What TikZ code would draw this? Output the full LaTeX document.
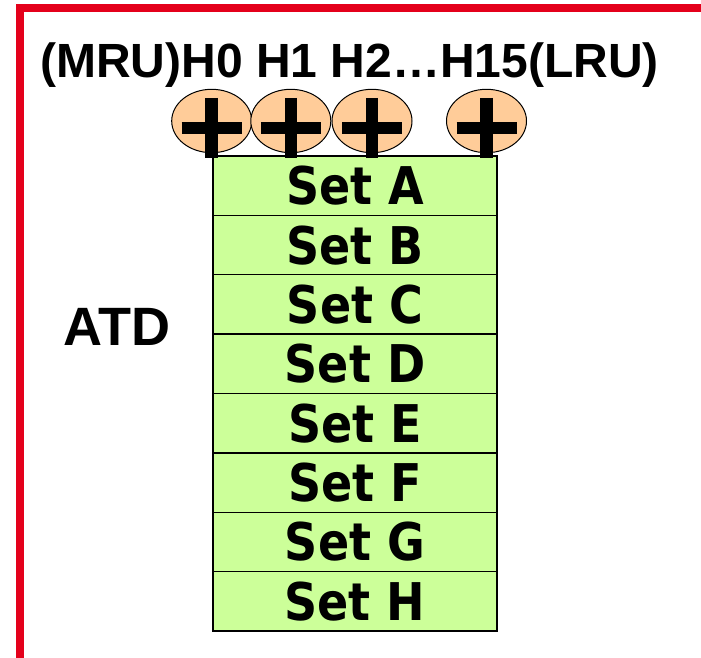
\documentclass[tikz,border=0pt]{standalone}
\usepackage{fontspec}
\setmainfont{Liberation Sans}
\newfontfamily\setfont{DejaVu Sans}[FakeStretch=0.885]
\usetikzlibrary{positioning,shapes.geometric}

\definecolor{framered}{RGB}{228,0,27}
\definecolor{rowgreen}{RGB}{204,255,153}
\definecolor{hitorange}{RGB}{255,204,153}

\tikzset{
  setrow/.style={draw,line width=1.3pt,fill=rowgreen,outer sep=0pt,inner sep=0pt,
    minimum width=284pt,minimum height=59.375pt,
    font=\setfont\bfseries\fontsize{52}{60}\selectfont},
  hitctr/.style={ellipse,draw,line width=1pt,fill=hitorange,inner sep=0pt,
    minimum width=80pt,minimum height=63.4pt},
  plusbar/.style={line width=12.5pt,line cap=butt}
}

\begin{document}
\begin{tikzpicture}[x=1pt,y=-1pt,line join=miter]
\useasboundingbox (0,0) rectangle (701,658);

% frame
\draw[framered,line width=8pt] (20,660) -- (20,8) -- (703,8);

% title and label
\node[anchor=base west,inner sep=0pt,font=\bfseries\fontsize{48}{56}\selectfont]
  (title) at (40,77.5) {(MRU)H0 H1 H2\ldots H15(LRU)};
\node[anchor=base,inner sep=0pt,font=\bfseries\fontsize{54}{60}\selectfont]
  (atd) at (117,345) {ATD};

% sets
\node[setrow] (set-A) at (355,185.7) {Set A};
\foreach \s/\p in {B/A,C/B,D/C,E/D,F/E,G/F,H/G}
  \node[setrow,below=0pt of set-\p] (set-\s) {Set \s};

% hit counters
\foreach \h/\x in {h0/211.7,h1/290.8,h2/372,h15/486.5}
  \node[hitctr] (\h) at (\x,121) {};

\foreach \h in {h0,h1,h2,h15} {
  \draw[plusbar] (\h.center) ++(0,-23) -- ++(0,59.7);
  \draw[plusbar] (\h.center) ++(-30,7) -- ++(60,0);
}
\end{tikzpicture}
\end{document}
